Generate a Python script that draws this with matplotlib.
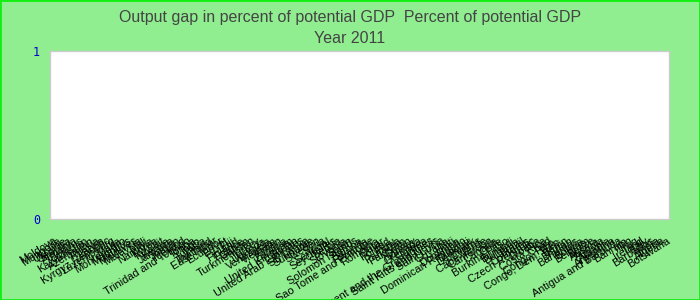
import matplotlib.pyplot as plt
from matplotlib.patches import Rectangle

# countries in chart order (output gap values are not shown for 2011)
countries = [
    "Moldova", "Mongolia", "Ukraine", "Georgia", "Armenia", "Belarus", "Kazakhstan",
    "Azerbaijan", "Russia", "Latvia", "Kyrgyz Republic", "Luxembourg", "Malta",
    "Montenegro", "Mauritius", "Maldives", "Malaysia", "Mali", "Namibia", "Korea",
    "Kuwait", "Kenya", "Jamaica", "Jordan", "Iceland", "Trinidad and Tobago", "Tonga",
    "Togo", "Tunisia", "Thailand", "East Timor", "Ecuador", "Egypt", "Fiji", "Finland",
    "France", "Gabon", "Turkmenistan", "Turkey", "Uganda", "Venezuela", "Vietnam",
    "Yemen", "Zambia", "United Kingdom", "Sudan", "United Arab Emirates", "Sri Lanka",
    "Suriname", "Sweden", "Syria", "Senegal", "Seychelles", "Serbia", "Slovenia",
    "Spain", "Solomon Islands", "Samoa", "Rwanda", "Sao Tome and Principe", "Romania",
    "Qatar", "Poland", "Peru", "Panama", "Pakistan", "Oman", "Norway", "Grenada",
    "Guinea", "St. Vincent and the Grenadines", "Saint Kitts and Nevis", "Saint Lucia",
    "Guyana", "Haiti", "Dominica", "Dominican Republic", "Djibouti", "Denmark", "Cyprus",
    "Cape Verde", "Cameroon", "Canada", "Chile", "Burkina Faso", "Burundi", "Bulgaria",
    "Brazil", "Comoros", "Czech Republic", "Croatia", "Costa Rica", "Chad", "Congo, Rep.",
    "Congo, Dem. Rep.", "Benin", "Bhutan", "Bahamas", "Bolivia", "Belgium", "Belize",
    "Austria", "Angola", "Albania", "Argentina", "Antigua and Barbuda", "Bahrain", "Iran",
    "Iraq", "Ireland", "Italy", "Barbados", "India", "Algeria", "Botswana",
]
values = [0] * len(countries)  # no data for 2011 -> empty bars

title1 = "Output gap in percent of potential GDP  Percent of potential GDP"
title2 = "Year 2011"

fig = plt.figure(figsize=(7, 3), dpi=100, facecolor="#90ee90")
fig.patches.append(Rectangle((0, 0), 1, 1, transform=fig.transFigure,
                             fill=False, edgecolor="#11ee11", linewidth=2))

ax = fig.add_axes([0.0714, 0.27, 0.885, 0.56])
ax.set_facecolor("white")
x = range(len(countries))
ax.bar(x, values, width=0.8, color="#4572a7")
ax.set_xlim(-0.5, len(countries) - 0.5)
ax.set_ylim(0, 1)
ax.set_yticks([0, 1])
ax.set_yticklabels(["0", "1"], color="#0000cc", family="DejaVu Sans Mono", fontsize=8.5)
ax.tick_params(axis="y", length=0, pad=7)
ax.set_xticks(list(x))
ax.set_xticklabels(countries, rotation=32, ha="right", rotation_mode="anchor",
                   fontsize=7.8, family=["Liberation Sans", "DejaVu Sans"])
ax.tick_params(axis="x", length=0, pad=12)
for s in ax.spines.values():
    s.set_color("#cccccc")
    s.set_linewidth(1)

fig.text(0.5, 0.943, title1, ha="center", va="center", color="#444444", fontsize=11.5,
         family=["Liberation Sans Narrow", "Liberation Sans", "DejaVu Sans"])
fig.text(0.5, 0.873, title2, ha="center", va="center", color="#444444", fontsize=11.5,
         family=["Liberation Sans Narrow", "Liberation Sans", "DejaVu Sans"])

fig.savefig("out.png", dpi=100, facecolor=fig.get_facecolor())
